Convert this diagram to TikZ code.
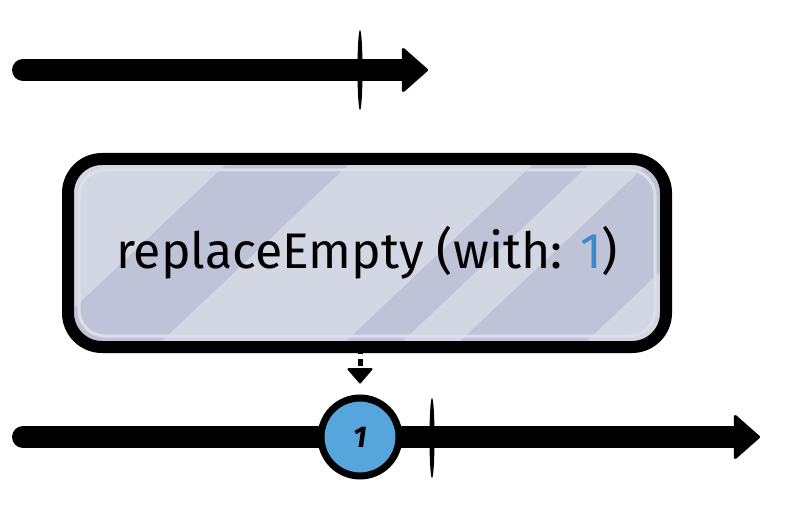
\documentclass[tikz,border=0pt]{standalone}
\usepackage{fontspec}
\newfontfamily\sketchfont{Fira Sans}
\usetikzlibrary{arrows.meta,positioning,shapes.geometric,backgrounds}
\usepackage{xcolor}
\definecolor{BoxDark}{HTML}{BEC3D7}
\definecolor{BoxLight}{HTML}{D3D7E4}
\definecolor{MarbleBlue}{HTML}{56A6DD}
\definecolor{ValueBlue}{HTML}{3D88CF}

\begin{document}
\begin{tikzpicture}[x=1pt,y=-1pt,
    timeline/.style={line width=22pt,line cap=round,
      -{Triangle[length=27pt,width=47pt,line width=3pt,round]}},
    tickmark/.style={ellipse,fill=black,inner sep=0pt,
      minimum width=5pt,minimum height=80pt},
    opbox/.style={draw=black,line width=12pt,rounded corners=34pt,
      minimum width=598pt,minimum height=188pt,outer sep=0pt,
      font=\sketchfont\fontsize{50}{54}\selectfont},
    marble/.style={circle,draw=black,fill=MarbleBlue,line width=7pt,
      minimum size=78pt,inner sep=0pt,
      font=\sketchfont\bfseries\itshape\fontsize{30}{34}\selectfont},
    flowarrow/.style={line width=5pt,dash pattern=on 7pt off 5pt,
      -{Triangle[length=16pt,width=27pt,line width=2pt,round]}}]
  \useasboundingbox (0,0) rectangle (788,516);

  % source stream
  \coordinate (inStart) at (23,70);
  \coordinate (inEnd) at (428,70);
  \draw[timeline] (inStart) -- (inEnd);
  \node[tickmark] (inDone) at (360,70) {};

  % operator
  \node[opbox] (op) at (367,253)
    {replaceEmpty (with: \textcolor{ValueBlue}{1})};
  \begin{scope}[on background layer]
    \clip[rounded corners=34pt] (op.south west) rectangle (op.north east);
    \fill[BoxDark] (op.south west) rectangle (op.north east);
    \foreach \a/\b in {-200/45,168/352,409/466,593/900}
      \fill[BoxLight] (\a-26,360) -- (\a+196,150)
        -- (\b+196,150) -- (\b-26,360) -- cycle;
    \draw[BoxLight!80!white,line width=3pt,rounded corners=26pt]
      ([xshift=11pt,yshift=-11pt]op.north west)
      rectangle ([xshift=-11pt,yshift=11pt]op.south east);
  \end{scope}

  % result stream
  \coordinate (outStart) at (23,437);
  \coordinate (outEnd) at (760,437);
  \draw[timeline] (outStart) -- (outEnd);
  \node[marble] (val) at (360,437) {1};
  \node[tickmark] (outDone) at (432,438) {};

  \draw[flowarrow] (val |- op.south) -- ([yshift=11pt]val.north);
\end{tikzpicture}
\end{document}
